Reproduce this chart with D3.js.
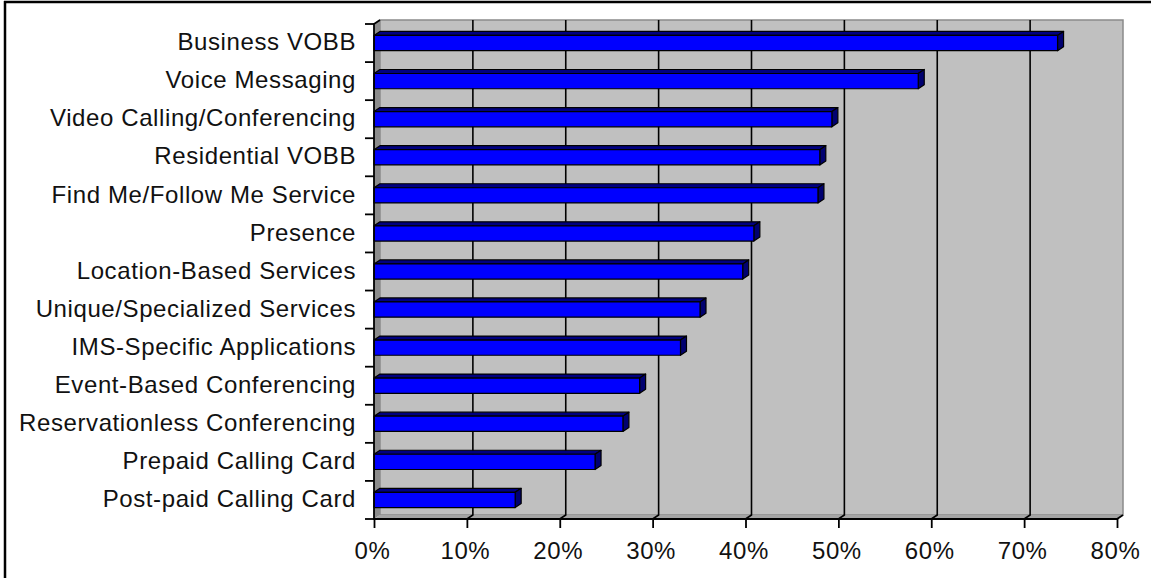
<!DOCTYPE html>
<html>
<head>
<meta charset="utf-8">
<script src="https://cdn.jsdelivr.net/npm/d3@7"></script>
<style>
  html, body { margin: 0; padding: 0; background: #fff; }
  svg { display: block; }
  .lbl { font-family: "Liberation Sans", Arial, sans-serif; font-size: 24px; letter-spacing: 0.6px; fill: #111; }
</style>
</head>
<body>
<svg id="chart" width="1151" height="578"></svg>
<script>
// Services, top to bottom
const categories = [
  "Business VOBB",
  "Voice Messaging",
  "Video Calling/Conferencing",
  "Residential VOBB",
  "Find Me/Follow Me Service",
  "Presence",
  "Location-Based Services",
  "Unique/Specialized Services",
  "IMS-Specific Applications",
  "Event-Based Conferencing",
  "Reservationless Conferencing",
  "Prepaid Calling Card",
  "Post-paid Calling Card"
];
// Share of respondents per service
const shares = [0.736, 0.586, 0.493, 0.480, 0.478, 0.409, 0.397, 0.351, 0.330, 0.286, 0.268, 0.238, 0.152];
// Value-axis ticks
const tickValues = [0, 0.1, 0.2, 0.3, 0.4, 0.5, 0.6, 0.7, 0.8];

const data = categories.map((c, i) => ({ name: c, value: shares[i] }));

const svg = d3.select("#chart");

// Plot frame (front plane) and 3D depth offset
const plotLeft = 374, plotRight = 1117, plotTop = 24, plotBottom = 519;
const dx = 6, dy = -4;

const x = d3.scaleLinear().domain([0, 0.8]).range([plotLeft, plotRight]);
const y = d3.scaleBand().domain(categories).range([plotTop, plotBottom])
  .paddingInner(0.6).paddingOuter(0.3);

// Outer border (top and left edges)
svg.append("line").attr("x1", 4).attr("x2", 1151).attr("y1", 2).attr("y2", 2)
  .attr("stroke", "#000").attr("stroke-width", 2.5);
svg.append("line").attr("x1", 5).attr("x2", 5).attr("y1", 1).attr("y2", 578)
  .attr("stroke", "#000").attr("stroke-width", 2.5);

const poly = pts => "M" + pts.map(p => p.join(",")).join("L") + "Z";

// Back wall
svg.append("path")
  .attr("d", poly([[plotLeft + dx, plotTop + dy], [plotRight + dx, plotTop + dy], [plotRight + dx, plotBottom + dy], [plotLeft + dx, plotBottom + dy]]))
  .attr("fill", "#c0c0c0").attr("stroke", "#8a8a8a").attr("stroke-width", 1.5);

// Side wall
svg.append("path")
  .attr("d", poly([[plotLeft, plotTop], [plotLeft + dx, plotTop + dy], [plotLeft + dx, plotBottom + dy], [plotLeft, plotBottom]]))
  .attr("fill", "#8c8c8c").attr("stroke", "none");

// Floor
svg.append("path")
  .attr("d", poly([[plotLeft, plotBottom], [plotLeft + dx, plotBottom + dy], [plotRight + dx, plotBottom + dy], [plotRight, plotBottom]]))
  .attr("fill", "#a4a4a4").attr("stroke", "none");

// Gridlines: vertical on back wall, diagonal across the floor
const grid = svg.append("g").attr("stroke", "#000").attr("stroke-width", 1.6).attr("fill", "none");
tickValues.filter(v => v > 0 && v < 0.8).forEach(v => {
  grid.append("path")
    .attr("d", `M${x(v) + dx},${plotTop + dy}L${x(v) + dx},${plotBottom + dy}L${x(v)},${plotBottom}`);
});

// Bars: top face, side face, front face
const bars = svg.append("g");
data.forEach(d => {
  const x0 = x(0), x1 = x(d.value);
  const y0 = y(d.name), y1 = y0 + y.bandwidth();
  const g = bars.append("g").attr("stroke", "#000").attr("stroke-width", 1.2).attr("stroke-linejoin", "round");
  g.append("path")
    .attr("d", poly([[x0, y0], [x1, y0], [x1 + dx, y0 + dy], [x0 + dx, y0 + dy]]))
    .attr("fill", "#000080");
  g.append("path")
    .attr("d", poly([[x1, y0], [x1 + dx, y0 + dy], [x1 + dx, y1 + dy], [x1, y1]]))
    .attr("fill", "#000070");
  g.append("rect")
    .attr("x", x0).attr("y", y0).attr("width", x1 - x0).attr("height", y1 - y0)
    .attr("fill", "#0000ff");
});

// Axis lines and edges
const axes = svg.append("g").attr("stroke", "#000").attr("stroke-width", 1.8).attr("fill", "none");
axes.append("path").attr("d", `M${plotLeft + dx},${plotTop + dy}L${plotLeft},${plotTop}L${plotLeft},${plotBottom}L${plotRight},${plotBottom}L${plotRight + dx},${plotBottom + dy}`);

// Category boundary ticks
d3.range(categories.length + 1).forEach(i => {
  const yy = plotTop + i * (plotBottom - plotTop) / categories.length;
  axes.append("line").attr("x1", plotLeft - 9).attr("x2", plotLeft).attr("y1", yy).attr("y2", yy);
});

// Category labels
const yAxis = svg.append("g")
  .attr("transform", `translate(${plotLeft},0)`)
  .call(d3.axisLeft(y).tickSize(0).tickPadding(18));
yAxis.select(".domain").remove();
yAxis.selectAll("text").attr("class", "lbl").attr("dy", "0.30em");
yAxis.attr("font-family", null).attr("font-size", null);

// Value axis
const xAxis = svg.append("g")
  .attr("transform", `translate(0,${plotBottom})`)
  .call(d3.axisBottom(x).tickValues(tickValues).tickFormat(d3.format(".0%")).tickSize(9).tickPadding(14));
xAxis.select(".domain").remove();
xAxis.selectAll(".tick line").attr("stroke", "#000").attr("stroke-width", 1.8);
xAxis.selectAll("text").attr("class", "lbl").attr("dx", -2);
xAxis.attr("font-family", null).attr("font-size", null);
</script>
</body>
</html>
